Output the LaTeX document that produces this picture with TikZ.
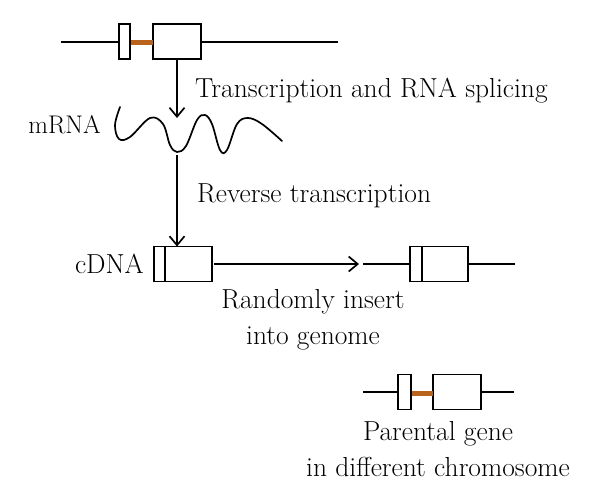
\documentclass[tikz,border=0pt]{standalone}
\usepackage{fontspec}
\usetikzlibrary{arrows.meta}
\definecolor{intron}{RGB}{185,98,28}
\begin{document}
\begin{tikzpicture}[x=1pt,y=-1pt,
  ln/.style={line width=1.7pt},
  exon/.style={draw,line width=1.7pt,fill=white,inner sep=0pt,outer sep=0pt},
  intr/.style={draw=intron,line width=5pt},
  arr/.style={line width=1.7pt,-{Straight Barb[length=9pt,width=15pt,line width=1.7pt]}},
  lab/.style={font=\fontsize{27.5}{36}\selectfont,inner sep=0pt},
  slab/.style={font=\fontsize{25.5}{30}\selectfont,inner sep=0pt}]
\useasboundingbox (0,0) rectangle (600,499);
% top gene
\coordinate (tl) at (61,41.7);
\coordinate (tr) at (338,41.7);
\node[exon,minimum width=11pt,minimum height=35pt] (te1) at (124.5,41.7) {};
\node[exon,minimum width=48pt,minimum height=35pt] (te2) at (177,41.7) {};
\draw[ln] (tl) -- (te1.west);
\draw[ln] (te2.east) -- (tr);
\draw[intr] ([yshift=-1.2pt]te1.east) -- ([yshift=-1.2pt]te2.west);
\node[exon,minimum width=11pt,minimum height=35pt] at (124.5,41.7) {};
% mRNA wave
\coordinate (w1) at (177,118);
\draw[ln,line cap=round] plot[smooth,tension=0.6] coordinates {
 (120,107) (115,125) (119,139) (130,137) (150,118) (163,124) (170,145) (177,152)
 (186,146) (197,120) (205,115) (212,124) (220,150) (227,150) (237,124) (248,118)
 (262,124) (282,141)};
\draw[arr] (te2.south) -- (w1);
% cDNA
\node[exon,minimum width=58pt,minimum height=35pt] (cd) at (183,264) {};
\draw[ln] (165,246.5) -- (165,281.5);
\coordinate (w2) at (177,155);
\draw[arr] (w2) -- (cd.north -| w2);
\coordinate (ha) at (359,264);
\draw[arr] ([xshift=2pt]cd.east) -- (ha);
% inserted copy
\coordinate (il) at (363,264);
\coordinate (ir) at (515,264);
\node[exon,minimum width=58pt,minimum height=35pt] (ic) at (439,264) {};
\draw[ln] (421.7,246.5) -- (421.7,281.5);
\draw[ln] (il) -- (ic.west);
\draw[ln] (ic.east) -- (ir);
% parental gene
\coordinate (pl) at (363,392);
\coordinate (pr) at (514,392);
\node[exon,minimum width=12.5pt,minimum height=35pt] (pe1) at (404.5,392) {};
\node[exon,minimum width=48pt,minimum height=35pt] (pe2) at (457,392) {};
\draw[ln] (pl) -- (pe1.west);
\draw[ln] (pe2.east) -- (pr);
\draw[intr] ([yshift=-1.5pt]pe1.east) -- ([yshift=-1.5pt]pe2.west);
\node[exon,minimum width=12.5pt,minimum height=35pt] at (404.5,392) {};
% labels
\node[lab,anchor=base west] (t1) at (195,97) {Transcription and RNA splicing};
\node[slab,anchor=base east] (t2) at (101,133.3) {mRNA};
\node[lab,anchor=base west] (t3) at (197,202) {Reverse transcription};
\node[lab,anchor=base east] (t4) at (144,273) {cDNA};
\node[lab,anchor=base,align=center] (t5) at (313,344) {Randomly insert\\into genome};
\node[lab,anchor=base,align=center] (t6) at (438,476.7) {Parental gene\\in different chromosome};
\end{tikzpicture}
\end{document}
